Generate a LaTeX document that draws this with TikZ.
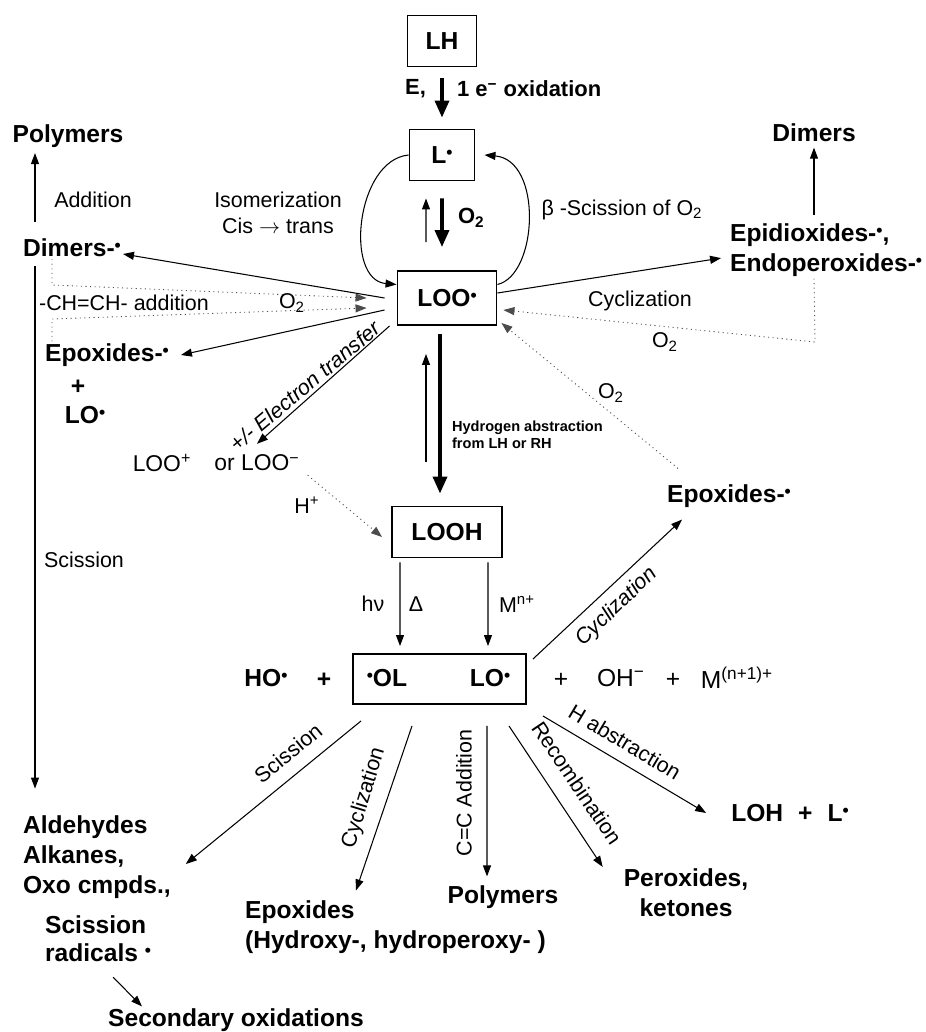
\documentclass[tikz,border=0pt]{standalone}
\usepackage{fontspec}
\setmainfont{Liberation Sans}
\usetikzlibrary{arrows.meta}

\newcommand{\rad}{\raisebox{0.4ex}{\fontsize{10}{10}\selectfont\textbullet}}

\tikzset{
  species/.style={font=\fontsize{14}{17}\selectfont\bfseries, inner sep=1pt},
  ion/.style={font=\fontsize{14}{17}\selectfont, inner sep=1pt},
  note/.style={font=\fontsize{12.2}{14.7}\selectfont, inner sep=1pt},
  bnote/.style={font=\fontsize{12.5}{15}\selectfont\bfseries, inner sep=1pt},
  hsmall/.style={font=\fontsize{8.3}{9.6}\selectfont\bfseries, inner sep=1pt},
  box/.style={draw, line width=1.1pt, minimum height=1.02cm, species},
  arr/.style={-{Triangle[length=2.2mm,width=1.6mm]}, line width=0.6pt},
  thickarr/.style={-{Triangle[length=3.4mm,width=2.8mm]}, line width=2pt},
  dotarr/.style={arr, dotted, line width=0.5pt, black!70},
}

\begin{document}
\begin{tikzpicture}[x=0.02cm, y=-0.02cm]
        \useasboundingbox (0,0) rectangle (926,1032);

        % draw boxes
        \node[box, minimum width=1.38cm] (lh) at (442,41) {LH};
        \node[box, minimum width=1.3cm] (l) at (442,155) {L\rad};
        \node[box, minimum width=1.98cm, minimum height=1.08cm] (loo) at (447,298) {LOO\rad};
        \node[box, minimum width=2.2cm] (looh) at (447,532) {LOOH};
        \node[box, minimum width=3.46cm, minimum height=1cm] (lob) at (439.5,679) {};

        % draw initiation
        \draw[thickarr] ([yshift=-0.22cm]lh.south) -- ([yshift=0.22cm]l.north);
        \node[bnote, anchor=east] (eox) at (428,89) {E,};
        \node[bnote, anchor=west] (oxid) at (455,89) {1 e\textsuperscript{−} oxidation};

        \draw[arr] ([xshift=-0.42cm,yshift=0.56cm]loo.north) -- ([xshift=-0.32cm,yshift=-0.34cm]l.south);
        \draw[thickarr] ([yshift=-0.34cm]l.south) -- ([xshift=-0.1cm,yshift=0.46cm]loo.north);
        \node[bnote, anchor=west] (o2l) at (456,218) {O\textsubscript{2}};

        \draw[arr] (l.west) .. controls (356,160) and (344,280) .. (loo.165);
        \draw[arr] (loo.15) .. controls (538,275) and (543,160) .. ([xshift=0.18cm]l.east);
        \node[note, align=center] (iso) at (278,213) {Isomerization\\Cis $\rightarrow$ trans};
        \node[note] (beta) at (622,210) {β -Scission of O\textsubscript{2}};

        % draw left branch
        \coordinate (lft) at (35,0);
        \coordinate (lft2) at (52,0);
        \coordinate (d1) at (52,285);
        \coordinate (d2) at (52,319);
        \node[species] (polyl) at (68,136) {Polymers};
        \node[species] (diml) at (72,248) {Dimers-\rad};
        \node[note] (addn) at (93,200) {Addition};
        \node[species] (epl) at (107,355) {Epoxides-\rad};
        \node[species] (plus3) at (78,387) {+};
        \node[species] (lol) at (85,415) {LO\rad};
        \node[note] (chch) at (124,303) {-CH=CH- addition};
        \node[note] (o2a) at (292,303) {O\textsubscript{2}};
        \node[note] (sci1) at (84,560) {Scission};
        \node[species, align=left, anchor=west] (ald) at (21,857) {Aldehydes\\Alkanes,\\Oxo cmpds.,};

        \draw[arr, shorten <=0.3cm, shorten >=2pt] (lft |- diml.north) -- (lft |- polyl.south);
        \draw[arr, shorten <=0.14cm, shorten >=0.5cm] (lft |- diml.south) -- (lft |- ald.north);
        \draw[arr] ([xshift=-0.24cm]loo.west) -- ([yshift=-0.12cm]diml.east);
        \draw[arr] ([xshift=-0.24cm,yshift=-0.24cm]loo.west) -- ([xshift=0.2cm]epl.east);
        \draw[dotarr] (lft2 |- diml.south) -- (d1) -- ([xshift=-0.6cm]loo.west);
        \draw[dotarr] (lft2 |- epl.north) -- (d2) -- ([xshift=-0.6cm,yshift=-0.2cm]loo.west);

        % draw electron transfer
        \node[note, font=\fontsize{13}{15}\selectfont] (loop) at (162,463) {LOO\textsuperscript{+}};
        \node[note, font=\fontsize{13}{15}\selectfont] (loom) at (257,463) {or LOO\textsuperscript{−}};
        \draw[arr] ([xshift=-0.14cm]loo.south west) -- ([yshift=0.18cm]loom.north);
        \node[note, rotate=40] (etr) at (305,386) {\itshape +/- Electron transfer};
        \draw[dotarr] ([xshift=0.12cm,yshift=-0.04cm]loom.south east) -- ([xshift=-0.18cm,yshift=-0.1cm]looh.west);
        \node[note] (hplus) at (307,505) {H\textsuperscript{+}};

        % draw propagation
        \draw[thickarr] ([xshift=-0.14cm,yshift=-0.16cm]loo.south) -- ([xshift=-0.14cm,yshift=0.24cm]looh.north);
        \draw[arr] ([xshift=-0.42cm,yshift=0.88cm]looh.north) -- ([xshift=-0.42cm,yshift=-0.56cm]loo.south);
        \node[hsmall, anchor=west, align=left] (habs) at (450,435) {Hydrogen abstraction\\from LH or RH};

        % draw right branch
        \node[species] (dimr) at (814,133) {Dimers};
        \node[species, anchor=west, align=left] (epi) at (728,250) {Epidioxides-\rad,\\Endoperoxides-\rad};
        \coordinate (ec) at (815,342);
        \draw[arr, shorten <=0.14cm, shorten >=2pt] (dimr.south |- epi.north) -- (dimr.south);
        \draw[arr, shorten >=4pt] ([yshift=0.1cm]loo.east) -- ([yshift=-0.14cm]epi.west);
        \node[note] (cycl) at (640,301) {Cyclization};
        \draw[dotarr] (dimr.south |- epi.south) -- (ec) -- ([xshift=0.12cm,yshift=-0.24cm]loo.east);
        \node[note] (o2b) at (665,342) {O\textsubscript{2}};
        \node[species] (epr) at (729,496) {Epoxides-\rad};
        \draw[dotarr] ([xshift=0.26cm,yshift=0.28cm]epr.north west) -- ([xshift=0.08cm,yshift=0.06cm]loo.south east);
        \node[note] (o2c) at (611,393) {O\textsubscript{2}};

        % draw decomposition
        \draw[arr] ([xshift=-0.94cm,yshift=-0.08cm]looh.south) -- ([xshift=-0.79cm,yshift=0.14cm]lob.north);
        \draw[arr] ([xshift=0.82cm,yshift=-0.08cm]looh.south) -- ([xshift=0.97cm,yshift=0.14cm]lob.north);
        \node[note] (hnu) at (373,604) {hν};
        \node[note] (delta) at (416,604) {Δ};
        \node[note] (mn) at (517,604) {M\textsuperscript{n+}};

        \node[species] (ho) at (266,678) {HO\rad};
        \node[species] (pl1) at (324,680) {+};
        \node[species] (ol) at (387,678) {\rad OL};
        \node[species] (lo) at (490,678) {LO\rad};
        \node[ion] (pl2) at (561,680) {+};
        \node[ion] (oh) at (621,678) {OH\textsuperscript{−}};
        \node[ion] (pl3) at (673,680) {+};
        \node[ion] (mox) at (737,678) {M\textsuperscript{(n+1)+}};

        \draw[arr] ([xshift=0.12cm,yshift=-0.12cm]lob.north east) -- ([xshift=-0.94cm,yshift=-0.2cm]epr.south);
        \node[note, rotate=44] (cycr) at (617,607) {\itshape Cyclization};

        % draw alkoxyl products
        \node[species, align=left, anchor=west] (epo) at (243,927) {Epoxides\\(Hydroxy-, hydroperoxy- )};
        \node[species] (polyb) at (503,897) {Polymers};
        \node[species, align=center] (perox) at (686,893) {Peroxides,\\ketones};
        \node[species] (loh) at (790,813) {LOH\hspace{0.3cm}+\hspace{0.3cm}L\rad};
        \node[species, align=left, anchor=west, font=\fontsize{14}{16}\selectfont\bfseries] (scr) at (43,939) {Scission\\radicals \rad};
        \node[species] (sec) at (236,1020) {Secondary oxidations};

        \draw[arr] ([xshift=-1.57cm,yshift=-0.32cm]lob.south) -- ([xshift=0.26cm,yshift=-0.14cm]ald.east);
        \node[note, rotate=39] (sci2) at (288,753) {Scission};
        \draw[arr] ([xshift=-0.55cm,yshift=-0.42cm]lob.south) -- ([xshift=2.26cm,yshift=0.16cm]epo.north west);
        \node[note, rotate=73] (cyc2) at (364,798) {Cyclization};
        \draw[arr] ([xshift=0.95cm,yshift=-0.42cm]lob.south) -- ([xshift=-0.32cm,yshift=0.14cm]polyb.north);
        \node[note, rotate=90] (cca) at (464,793) {C=C Addition};
        \draw[arr] ([xshift=1.39cm,yshift=-0.42cm]lob.south) -- ([xshift=-0.38cm]perox.north west);
        \node[note, rotate=-56] (rec) at (577,783) {Recombination};
        \draw[arr] ([xshift=0.32cm,yshift=-0.22cm]lob.south east) -- ([xshift=-0.46cm]loh.west);
        \node[note, rotate=-31] (habs2) at (625,742) {H abstraction};
        \draw[arr] ([xshift=0.3cm,yshift=-0.26cm]scr.south) -- ([xshift=-1.88cm]sec.north);
        \end{tikzpicture}
\end{document}
